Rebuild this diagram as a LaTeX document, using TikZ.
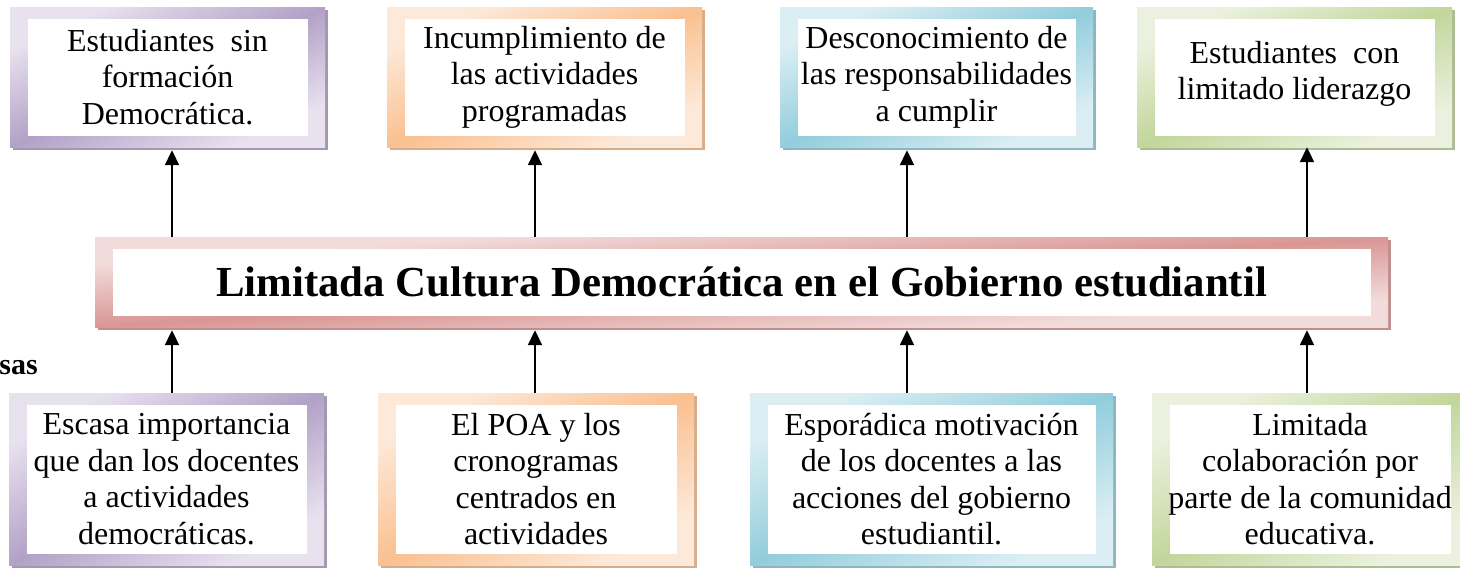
\documentclass[tikz,border=0pt]{standalone}
\usepackage{fontspec}
\setmainfont{Liberation Serif}
\usetikzlibrary{arrows.meta}
\definecolor{purL}{HTML}{E8E2EF}
\definecolor{purD}{HTML}{B2A1C7}
\definecolor{orL}{HTML}{FDE9D9}
\definecolor{orD}{HTML}{FAC090}
\definecolor{blL}{HTML}{DAEEF3}
\definecolor{blD}{HTML}{92CDDC}
\definecolor{grL}{HTML}{EBF1DE}
\definecolor{grD}{HTML}{C2D69B}
\definecolor{rdL}{HTML}{F2DCDB}
\definecolor{rdD}{HTML}{D99694}
\tikzset{
  boxtext/.style={inner sep=0pt, align=center, font=\fontsize{32}{36.5}\selectfont},
  arr/.style={line width=2pt, -{Triangle[width=14pt,length=15pt]}},
}
% #1 name, #2 cx, #3 cy, #4 w, #5 h, #6 light, #7 dark, #8 node options, #9 text
\newcommand\gradbox[9]{%
  \fill[#7!70!gray] ({#2-#4/2+3},{#3-#5/2+3}) rectangle ({#2+#4/2+3},{#3+#5/2+3});
  \begin{scope}[transform canvas={shift={(#2,#3)}, xscale=#4/100, yscale=#5/100}]
    \shade[left color=#6, right color=#6, middle color=#7, shading angle=45]
      (-50,-50) rectangle (50,50);
  \end{scope}
  \fill[white] ({#2-#4/2+17.5},{#3-#5/2+12}) rectangle ({#2+#4/2-17.5},{#3+#5/2-11});
  \node[boxtext, minimum width=#4pt, minimum height=#5pt, #8] (#1) at (#2,#3) {#9};
}
\begin{document}
\begin{tikzpicture}[x=1pt,y=-1pt]
\useasboundingbox (0,0) rectangle (1460,568);
% effects (top row)
\gradbox{t1}{167.5}{77}{315}{140}{purL}{purD}{}{Estudiantes\ \ sin\\formación\\Democrática.}
\gradbox{t2}{544.5}{77}{315}{140}{orL}{orD}{}{Incumplimiento de\\las actividades\\programadas}
\gradbox{t3}{936.5}{77}{313}{140}{blL}{blD}{}{Desconocimiento de\\las responsabilidades\\a cumplir}
\gradbox{t4}{1294.5}{77}{315}{140}{grL}{grD}{yshift=3pt}{Estudiantes\ \ con\\limitado liderazgo}
% central problem
\gradbox{main}{741.5}{282}{1293}{90}{rdL}{rdD}{font=\bfseries\fontsize{42.8}{48}\selectfont}{Limitada Cultura Democrática en el Gobierno estudiantil}
% causes (bottom row)
\gradbox{b1}{166.5}{479}{315}{172}{purL}{purD}{}{Escasa importancia\\que dan los docentes\\a actividades\\democráticas.}
\gradbox{b2}{536}{479}{316}{172}{orL}{orD}{}{El POA y los\\cronogramas\\centrados en\\actividades}
\gradbox{b3}{931.5}{479}{363}{172}{blL}{blD}{}{Esporádica motivación\\de los docentes a las\\acciones del gobierno\\estudiantil.}
\gradbox{b4}{1310}{479}{316}{172}{grL}{grD}{}{Limitada\\colaboración por\\parte de la comunidad\\educativa.}
% partial label
\node[anchor=base east, inner sep=0pt, font=\bfseries\fontsize{30}{34}\selectfont] (lbl) at (38,374) {sas};
% arrow columns
\coordinate (x1) at (172,0);
\coordinate (x2) at (535,0);
\coordinate (x3) at (907,0);
\coordinate (x4) at (1307,0);
\foreach \i in {1,...,4}{
  \draw[arr] (main.north -| x\i) -- ([yshift=-3pt]t\i.south -| x\i);
  \draw[arr] (b\i.north -| x\i) -- ([yshift=-3pt]main.south -| x\i);
}
\end{tikzpicture}
\end{document}
